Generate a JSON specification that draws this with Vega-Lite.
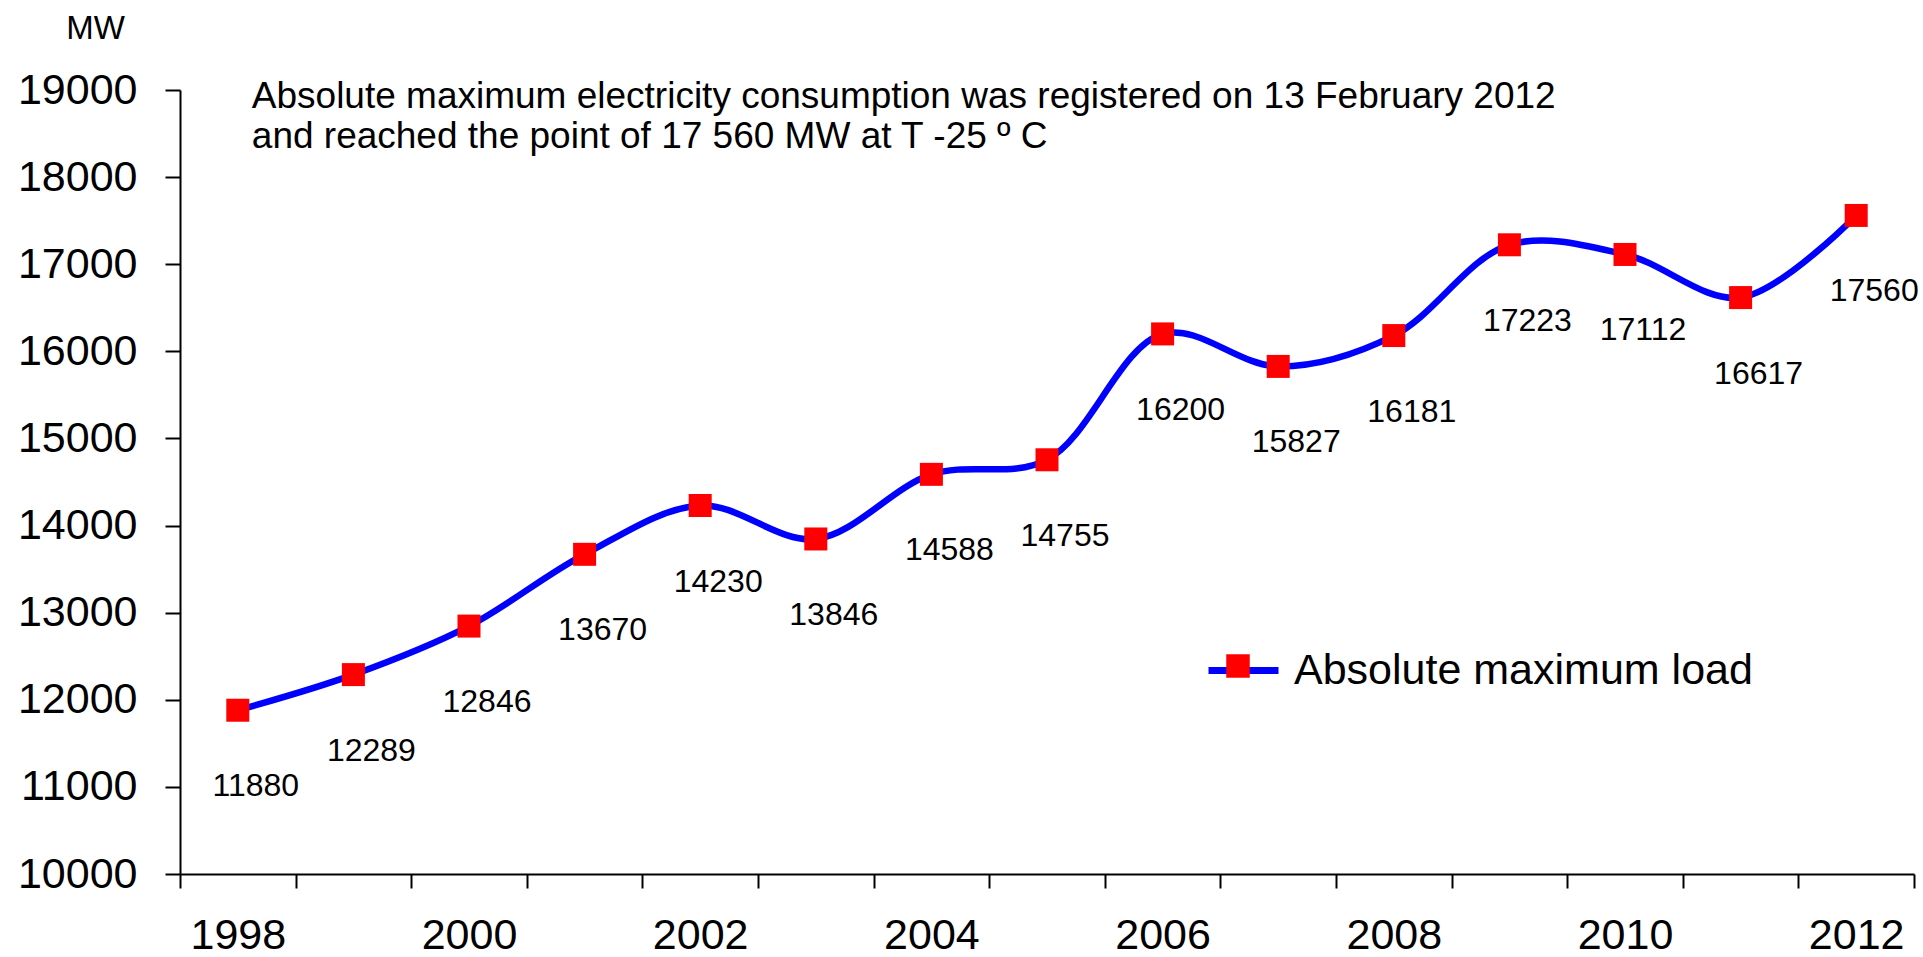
{
  "$schema": "https://vega.github.io/schema/vega-lite/v6.json",
  "width": 1734,
  "height": 784,
  "autosize": {"type": "none"},
  "padding": {"left": 180, "top": 90, "right": 9, "bottom": 83},
  "background": "white",
  "config": {
    "view": {"stroke": null},
    "font": "Liberation Sans",
    "axis": {"domainColor": "black", "domainWidth": 2, "tickColor": "black", "tickWidth": 2, "grid": false, "labelColor": "black", "titleColor": "black", "labelFont": "Liberation Sans", "titleFont": "Liberation Sans"},
    "legend": {"labelFont": "Liberation Sans"}
  },
  "data": {
    "values": [
      {"year": 1998, "value": 11880, "series": "Absolute maximum load"},
      {"year": 1999, "value": 12289, "series": "Absolute maximum load"},
      {"year": 2000, "value": 12846, "series": "Absolute maximum load"},
      {"year": 2001, "value": 13670, "series": "Absolute maximum load"},
      {"year": 2002, "value": 14230, "series": "Absolute maximum load"},
      {"year": 2003, "value": 13846, "series": "Absolute maximum load"},
      {"year": 2004, "value": 14588, "series": "Absolute maximum load"},
      {"year": 2005, "value": 14755, "series": "Absolute maximum load"},
      {"year": 2006, "value": 16200, "series": "Absolute maximum load"},
      {"year": 2007, "value": 15827, "series": "Absolute maximum load"},
      {"year": 2008, "value": 16181, "series": "Absolute maximum load"},
      {"year": 2009, "value": 17223, "series": "Absolute maximum load"},
      {"year": 2010, "value": 17112, "series": "Absolute maximum load"},
      {"year": 2011, "value": 16617, "series": "Absolute maximum load"},
      {"year": 2012, "value": 17560, "series": "Absolute maximum load"}
    ]
  },
  "encoding": {
    "x": {
      "field": "year",
      "type": "ordinal",
      "scale": {"paddingInner": 0, "paddingOuter": 0},
      "axis": {
        "title": null,
        "labelAngle": 0,
        "tickBand": "extent",
        "tickSize": 14,
        "labelPadding": 26,
        "labelFontSize": 43,
        "labelExpr": "datum.value % 2 == 0 ? datum.label : ''"
      }
    },
    "y": {
      "field": "value",
      "type": "quantitative",
      "scale": {"domain": [10000, 19000], "nice": false, "zero": false},
      "axis": {
        "values": [10000, 11000, 12000, 13000, 14000, 15000, 16000, 17000, 18000, 19000],
        "format": "d",
        "tickSize": 15,
        "labelPadding": 28,
        "labelFontSize": 43,
        "title": "MW",
        "titleAngle": 0,
        "titleFontSize": 33,
        "titleFontWeight": "normal",
        "titleAlign": "center",
        "titleBaseline": "alphabetic",
        "titleX": -85,
        "titleY": -52
      }
    }
  },
  "layer": [
    {
      "mark": {"type": "line", "interpolate": "catmull-rom", "strokeWidth": 6.5},
      "encoding": {
        "stroke": {
          "datum": "Absolute maximum load",
          "type": "nominal",
          "scale": {"range": ["#0000ff"]},
          "legend": {
            "title": null,
            "orient": "none",
            "legendX": 1025,
            "legendY": 542,
            "padding": 0,
            "symbolType": "stroke",
            "symbolSize": 4900,
            "symbolStrokeWidth": 7,
            "labelFontSize": 43,
            "labelOffset": 12,
            "labelColor": "black",
            "labelLimit": 700
          }
        }
      }
    },
    {
      "mark": {"type": "point", "shape": "square", "filled": true, "size": 529, "opacity": 1},
      "encoding": {
        "fill": {
          "field": "series",
          "type": "nominal",
          "scale": {"range": ["#ff0000"]},
          "legend": {
            "title": null,
            "orient": "none",
            "legendX": 1046,
            "legendY": 564,
            "padding": 0,
            "symbolType": "square",
            "symbolSize": 552,
            "symbolOpacity": 1,
            "symbolStrokeWidth": 0,
            "labelFontSize": 1,
            "labelExpr": "''"
          }
        }
      }
    },
    {
      "mark": {"type": "text", "fontSize": 32, "align": "center", "baseline": "alphabetic", "dx": 18, "dy": 86, "color": "black"},
      "encoding": {
        "text": {"field": "value", "type": "quantitative", "format": "d"}
      }
    },
    {
      "transform": [{"filter": "datum.year == 1998"}],
      "mark": {
        "type": "text",
        "fontSize": 37,
        "align": "left",
        "baseline": "alphabetic",
        "dx": 14,
        "dy": 18,
        "lineHeight": 40,
        "color": "black",
        "text": ["Absolute maximum electricity consumption was registered on 13 February 2012", "and reached the point of 17 560 MW at T -25 º C"]
      },
      "encoding": {
        "y": {"datum": 19000, "type": "quantitative"}
      }
    }
  ]
}
